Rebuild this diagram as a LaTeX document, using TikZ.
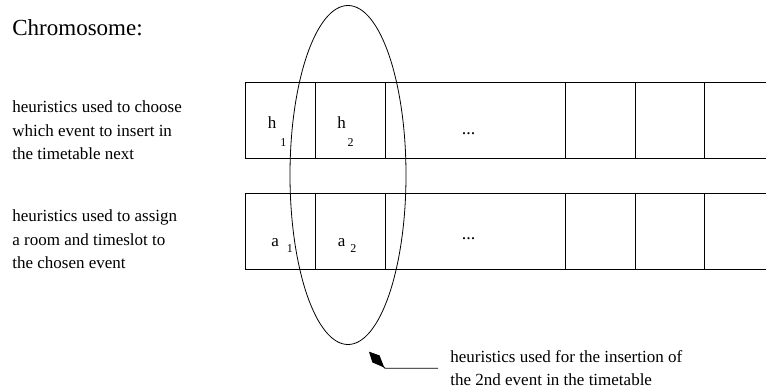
\documentclass[tikz,border=0pt]{standalone}
\usepackage{fontspec}
\setmainfont{Liberation Serif}
\usetikzlibrary{shapes.geometric,arrows.meta}
\begin{document}
\begin{tikzpicture}[x=1pt,y=-1pt,
  line width=0.8pt,
  cell/.style={draw, minimum height=76pt, inner sep=0pt, anchor=north west},
  lbl/.style={anchor=base west, inner sep=0pt, font=\fontsize{17}{23.3}\selectfont, align=left},
  title/.style={anchor=base west, inner sep=0pt, font=\fontsize{23}{26}\selectfont},
  gene/.style={anchor=base west, inner sep=0pt, font=\fontsize{17}{18}\selectfont},
  idx/.style={anchor=base west, inner sep=0pt, font=\fontsize{12}{14}\selectfont},
  dots/.style={anchor=base west, inner sep=0pt, font=\fontsize{18}{20}\selectfont},
]
\useasboundingbox (0,0) rectangle (766,391);

\node[title] (title) at (12,35.5) {Chromosome:};
% anchored at the baseline of the last line
\node[lbl] (desc1) at (12,159.5) {heuristics used to choose\\which event to insert in\\the timetable next};
\node[lbl] (desc2) at (12,268.5) {heuristics used to assign\\a room and timeslot to\\the chosen event};

\begin{scope}
\clip (0,0) rectangle (766,391);
% top row
\node[cell, minimum width=70pt] (h1) at (245,82.3) {};
\node[cell, minimum width=70pt] (h2) at (315,82.3) {};
\node[cell, minimum width=180pt] (h3) at (385,82.3) {};
\node[cell, minimum width=70pt] (h4) at (565,82.3) {};
\node[cell, minimum width=69pt] (h5) at (635,82.3) {};
\node[cell, minimum width=80pt] (h6) at (704,82.3) {};
% bottom row
\node[cell, minimum width=70pt] (a1) at (245,193.3) {};
\node[cell, minimum width=70pt] (a2) at (315,193.3) {};
\node[cell, minimum width=180pt] (a3) at (385,193.3) {};
\node[cell, minimum width=70pt] (a4) at (565,193.3) {};
\node[cell, minimum width=69pt] (a5) at (635,193.3) {};
\node[cell, minimum width=80pt] (a6) at (704,193.3) {};
\end{scope}

% gene labels
\node[gene] (h1t) at (267.5,128.3) {h};
\node[idx] (h1i) at (280,146) {1};
\node[gene] (h2t) at (337,128.3) {h};
\node[idx] (h2i) at (347.3,146) {2};
\node[dots] (h3t) at (461.5,134.5) {...};

\node[gene] (a1t) at (271,246.7) {a};
\node[idx] (a1i) at (286.5,252) {1};
\node[gene] (a2t) at (337.5,246.7) {a};
\node[idx] (a2i) at (350,252) {2};
\node[dots] (a3t) at (461.5,239.5) {...};

% selection ellipse
\node[draw, ellipse, minimum width=116pt, minimum height=339pt, inner sep=0pt] (sel) at (348,175) {};

% annotation
\node[lbl] (note) at (450,385.3) {heuristics used for the insertion of\\the 2nd event in the timetable};
\coordinate (tail) at (438,368.3);
\coordinate (bend) at (385,368.3);
\coordinate (tip) at (369,351.7);
\draw[-{Kite[length=22pt,width=10pt,inset=12pt]}] (tail) -- (bend) -- (tip);
\end{tikzpicture}
\end{document}
